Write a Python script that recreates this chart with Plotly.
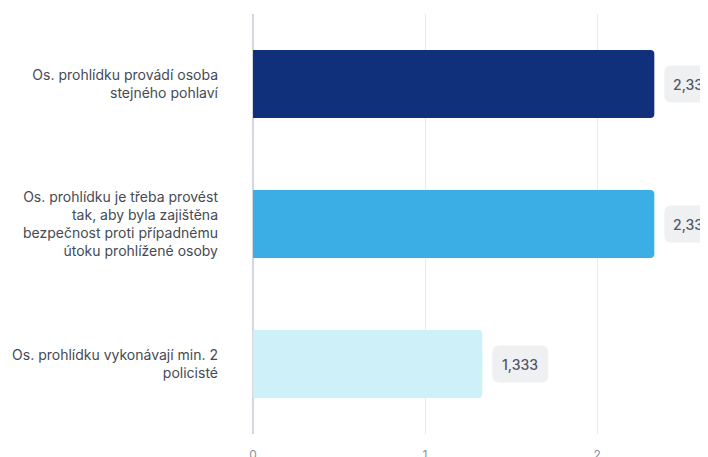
import plotly.graph_objects as go

categories = [
    "Os. prohlídku provádí osoba<br>stejného pohlaví",
    "Os. prohlídku je třeba provést<br>tak, aby byla zajištěna<br>bezpečnost proti případnému<br>útoku prohlížené osoby",
    "Os. prohlídku vykonávají min. 2<br>policisté",
]
values = [2.333, 2.333, 1.333]
value_labels = ["2,333", "2,333", "1,333"]
colors = ["#11307c", "#3baee5", "#cdf0f9"]
x_ticks = [0, 1, 2]

fig = go.Figure()
fig.add_trace(go.Bar(
    y=categories, x=values, orientation="h",
    marker=dict(color=colors, line=dict(width=0)),
    width=0.486, hoverinfo="skip",
))

box_w, box_h, r, gap = 56, 37, 7, 10
for cat, v, lab in zip(categories, values, value_labels):
    x0, x1 = gap, gap + box_w
    y0, y1 = -box_h / 2, box_h / 2
    path = (f"M {x0+r},{y0} L {x1-r},{y0} Q {x1},{y0} {x1},{y0+r} "
            f"L {x1},{y1-r} Q {x1},{y1} {x1-r},{y1} L {x0+r},{y1} "
            f"Q {x0},{y1} {x0},{y1-r} L {x0},{y0+r} Q {x0},{y0} {x0+r},{y0} Z")
    fig.add_shape(type="path", path=path, xref="x", yref="y",
                  xsizemode="pixel", ysizemode="pixel", xanchor=v, yanchor=cat,
                  fillcolor="#eef0f2", line=dict(width=0), layer="above")
    fig.add_annotation(x=v, y=cat, xref="x", yref="y", text=lab, showarrow=False,
                       xanchor="center", xshift=gap + box_w / 2,
                       font=dict(family="Inter", size=14, color="#515866", weight=500))

fig.update_layout(
    width=700, height=449,
    margin=dict(l=245, r=0, t=6, b=23),
    paper_bgcolor="white", plot_bgcolor="white",
    showlegend=False, barcornerradius=4,
    font=dict(family="Inter", size=14, color="#454a55"),
    xaxis=dict(range=[0, 2.645], tickvals=x_ticks, ticktext=[str(t) for t in x_ticks],
               showgrid=True, gridcolor="#ebebed", gridwidth=1,
               zeroline=True, zerolinecolor="#d6d6e0", zerolinewidth=1.5,
               showline=False, ticks="", ticklabelstandoff=12, automargin=False,
               tickfont=dict(size=12, color="#8a8f99")),
    yaxis=dict(autorange="reversed", range=[2.5, -0.5], showgrid=False,
               ticks="", ticklabelstandoff=34, showline=False, automargin=False,
               tickfont=dict(size=14, color="#454a55")),
)
fig.write_html("out.html")
